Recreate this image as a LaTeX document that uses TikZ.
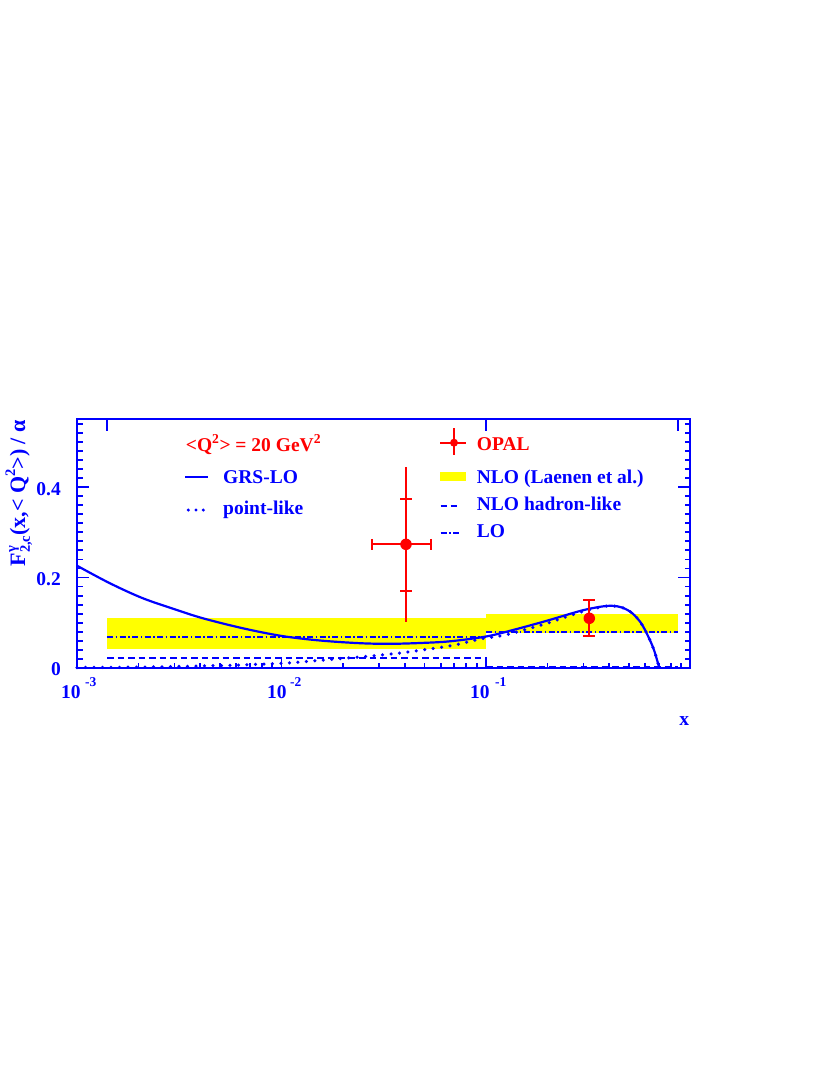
\documentclass[tikz,border=0pt]{standalone}
\usepackage{fontspec}
\setmainfont{Liberation Serif}
\definecolor{rblue}{RGB}{0,0,255}
\definecolor{rred}{RGB}{255,0,0}
\definecolor{ryellow}{RGB}{255,255,0}
\tikzset{
  lbl/.style={font=\fontsize{19.5bp}{23bp}\selectfont\bfseries, text=rblue, inner sep=0pt},
  suplbl/.style={font=\fontsize{13.5bp}{16bp}\selectfont\bfseries, text=rblue, inner sep=0pt},
  grs/.style={rblue, line width=2.2bp},
  ptlike/.style={rblue, line width=3.5bp, line cap=round, dash pattern=on 0bp off 8.5bp},
  hadron/.style={rblue, line width=2bp, dash pattern=on 6.5bp off 4bp},
  lostyle/.style={rblue, line width=2bp, dash pattern=on 6bp off 2.5bp on 1.5bp off 2.5bp},
  band/.style={fill=ryellow, draw=none},
  errbar/.style={rred, line width=1.8bp},
  marker/.style={circle, fill=rred, draw=none, inner sep=0pt, minimum size=11.5bp},
  smallmarker/.style={circle, fill=rred, draw=none, inner sep=0pt, minimum size=8bp},
  framestyle/.style={rblue, line width=2.4bp},
  tickstyle/.style={rblue, line width=1.8bp},
  legline/.style={rblue, line width=2bp},
}
\begin{document}
\begin{tikzpicture}[x=1bp,y=-1bp]
\useasboundingbox (0,0) rectangle (828,1072);
\fill[white] (0,0) rectangle (828,1072);

% NLO band
\fill[band] (107,618) rectangle (486,648.7);
\fill[band] (486,614) rectangle (678,633.3);

% NLO hadron-like
\draw[hadron] (107,657.5) -- (486,657.5);
\draw[hadron] (486,666.8) -- (678,666.8);

% LO
\draw[lostyle] (107,637.3) -- (486,637.3);
\draw[lostyle] (486,631.7) -- (678,631.7);

% GRS-LO
\draw[grs] plot[smooth, tension=0.55] coordinates {
 (77,565.7) (110,583.3) (143,598.3) (177,610) (203,618.3) (243,628.3)
 (282,636) (320,640.5) (360,643.2) (390,643.8) (420,643) (450,641.3)
 (486,636.5) (513,630) (547,620.7) (580,611) (600,606.8) (612,605.8)
 (622,607.5) (632,613) (641,623) (648,636) (654,650) (659.3,668)};

% point-like
\draw[ptlike] plot[smooth, tension=0.55] coordinates {
 (77,667.5) (120,667.3) (160,666.8) (200,666) (240,665) (282,663.3)
 (300,662) (333,659.3) (367,656.3) (400,653) (433,648.5) (457,644.5)
 (481,638.8) (500,636) (513,633) (547,623.3) (580,612.3) (600,607.3)
 (612,605.8) (622,607.5) (632,613) (641,623) (648,636) (654,650) (659.3,668)};

% OPAL data point 1
\draw[errbar] (406,467) -- (406,622);
\draw[errbar] (400,499) -- (412,499);
\draw[errbar] (400,590.7) -- (412,590.7);
\draw[errbar] (372.3,544.3) -- (431,544.3);
\draw[errbar] (372.3,538.8) -- (372.3,549.8);
\draw[errbar] (431,538.8) -- (431,549.8);
\node[marker] (p1) at (406,544.3) {};

% OPAL data point 2
\draw[errbar] (589.3,600) -- (589.3,636);
\draw[errbar] (583.3,600) -- (595.3,600);
\draw[errbar] (583.3,636) -- (595.3,636);
\node[marker] (p2) at (589.3,618.3) {};

% frame
\draw[framestyle] (77,419) rectangle (690,668);

% left and right ticks
\foreach \i in {1,...,27}{
  \draw[tickstyle] (77,{668-9.05*\i}) -- (83,{668-9.05*\i});
  \draw[tickstyle] (690,{668-9.05*\i}) -- (685,{668-9.05*\i});
}
\foreach \i in {10,20}{
  \draw[tickstyle] (77,{668-9.05*\i}) -- (89,{668-9.05*\i});
  \draw[tickstyle] (690,{668-9.05*\i}) -- (678,{668-9.05*\i});
}
% bottom ticks
\foreach \d in {0,1,2}{
  \foreach \k in {2,...,9}{
    \draw[tickstyle] ({77+204.5*(\d+log10(\k))},668) -- ({77+204.5*(\d+log10(\k))},663);
  }
}
\draw[tickstyle] (281.5,668) -- (281.5,657);
\draw[tickstyle] (486,668) -- (486,657);
% top ticks
\foreach \xx in {107,486,678}{
  \draw[tickstyle] (\xx,419) -- (\xx,431);
}

% axis labels
\node[lbl, anchor=base east] (y0) at (61,675) {0};
\node[lbl, anchor=base east] (y2) at (61,585) {0.2};
\node[lbl, anchor=base east] (y4) at (61,495) {0.4};

\node[lbl, anchor=base west] (x3) at (61,698.3) {10};
\node[suplbl, anchor=base west] (x3s) at (85,686) {-3};
\node[lbl, anchor=base west] (x2) at (267,698.3) {10};
\node[suplbl, anchor=base west] (x2s) at (290,686) {-2};
\node[lbl, anchor=base west] (x1) at (470,698.3) {10};
\node[suplbl, anchor=base west] (x1s) at (495,686) {-1};

\node[lbl, anchor=base] (xtitle) at (684.3,725) {x};

\node[lbl, font=\fontsize{22bp}{26bp}\selectfont\bfseries, rotate=90, anchor=base east] (ytitle) at (25,420)
 {F\rlap{\raisebox{0.42em}{\fontsize{14.5bp}{16bp}\selectfont γ}}\raisebox{-0.22em}{\fontsize{14.5bp}{16bp}\selectfont 2,c}(x,< Q\raisebox{0.45em}{\fontsize{14.5bp}{16bp}\selectfont 2}>) / α};

% legend
\node[lbl, text=rred, anchor=base west] (q2) at (185.7,451) {<Q\textsuperscript{2}> = 20 GeV\textsuperscript{2}};

\draw[grs] (185,476.7) -- (208.3,476.7);
\node[lbl, anchor=base west] (lgrs) at (223,483) {GRS-LO};

\fill[rblue] (188.3,510) circle (1.7);
\fill[rblue] (196,510) circle (1.7);
\fill[rblue] (203.3,510) circle (1.7);
\node[lbl, anchor=base west] (lpt) at (223,514.3) {point-like};

\draw[errbar] (440,442.7) -- (466,442.7);
\draw[errbar] (454,428.3) -- (454,455);
\node[smallmarker] (lm) at (454,442.7) {};
\node[lbl, text=rred, anchor=base west] (lopal) at (476.7,450) {OPAL};

\fill[band] (440,471.7) rectangle (466,481);
\node[lbl, anchor=base west] (lnlo) at (476.7,483.3) {NLO (Laenen et al.)};

\draw[legline] (440.5,506) -- (446.5,506);
\draw[legline] (450.5,506) -- (456.5,506);
\node[lbl, anchor=base west] (lhad) at (476.7,510) {NLO hadron-like};

\draw[legline] (440.5,532.7) -- (446.5,532.7);
\draw[legline] (449.3,532.7) -- (450.8,532.7);
\draw[legline] (453.3,532.7) -- (459.3,532.7);
\node[lbl, anchor=base west] (llo) at (476.7,537.3) {LO};
\end{tikzpicture}
\end{document}
